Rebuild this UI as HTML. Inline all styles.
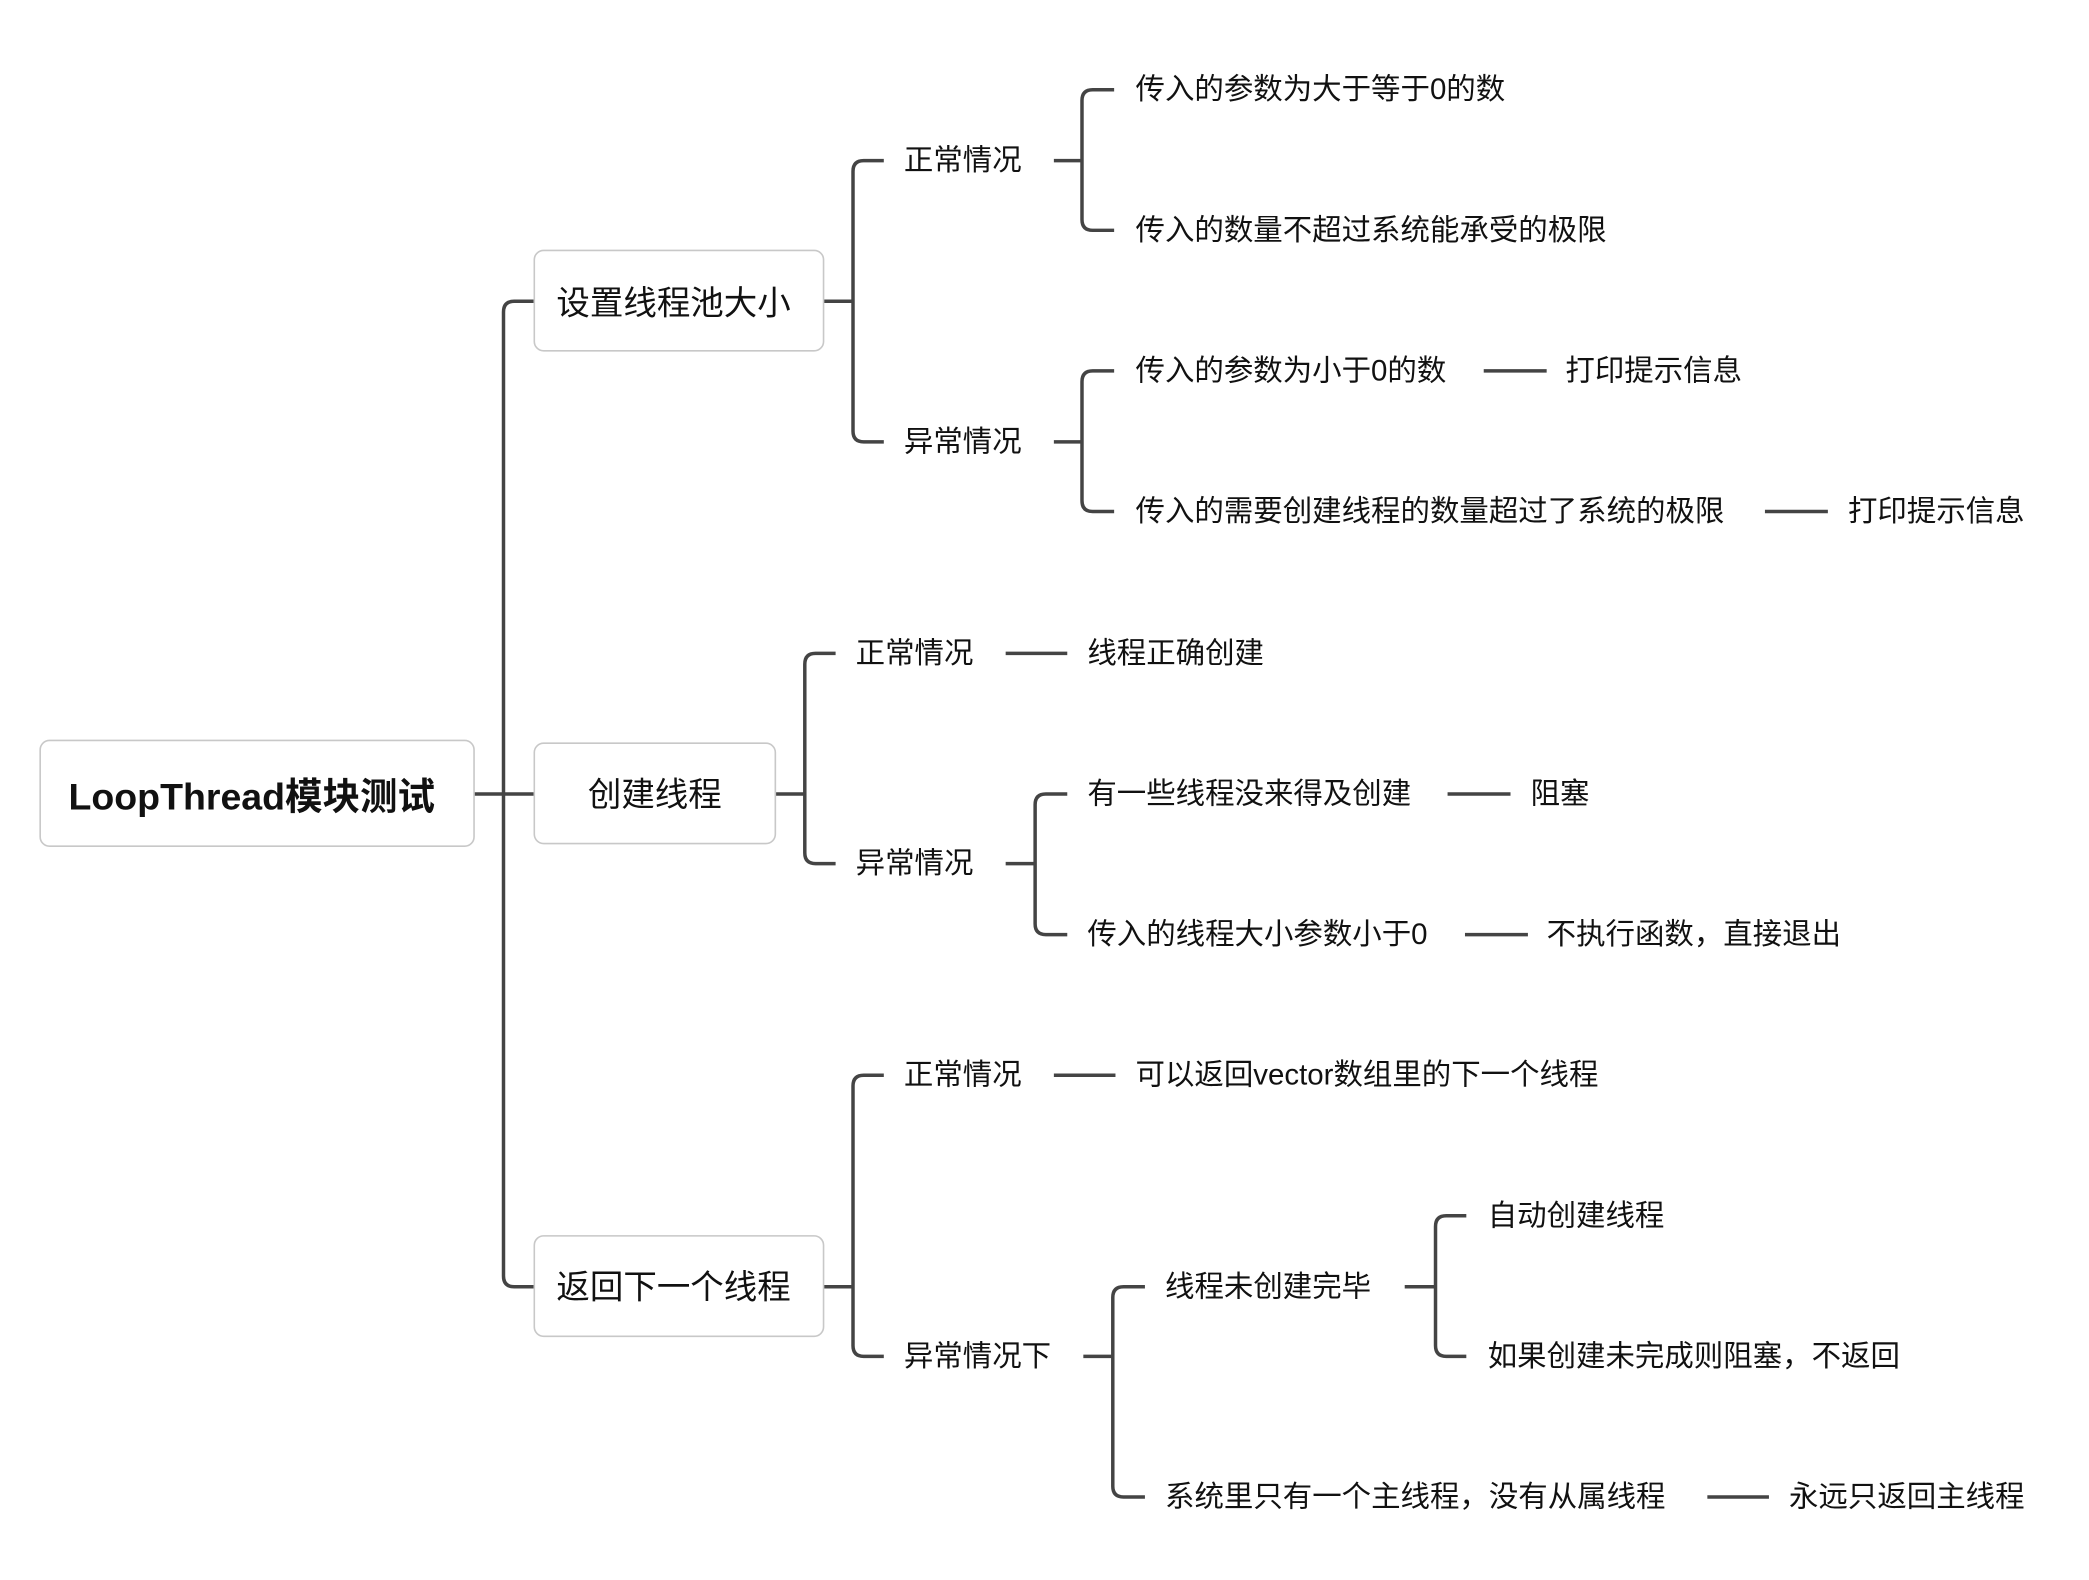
<!DOCTYPE html>
<html><head><meta charset="utf-8"><style>
html,body{margin:0;padding:0;background:#fff;}
svg{display:block}
text{font-family:"Liberation Sans","Noto Sans CJK SC",sans-serif;fill:#111;dominant-baseline:central}
</style></head><body>
<svg width="2089" height="1580" viewBox="0 0 1560 1180" preserveAspectRatio="none" xmlns="http://www.w3.org/2000/svg">
<g fill="none" stroke="#444" stroke-width="2.6" stroke-linecap="butt">
<!-- root spine -->
<path d="M354 593 H376"/>
<path d="M399 225 H384 Q376 225 376 233 V953 Q376 961 384 961 H399"/>
<path d="M376 593 H399"/>
<!-- box1 -->
<path d="M615 225 H637"/>
<path d="M660 120 H645 Q637 120 637 128 V322 Q637 330 645 330 H660"/>
<path d="M787 120 H808"/>
<path d="M832 67 H816 Q808 67 808 75 V164 Q808 172 816 172 H832"/>
<path d="M787 330 H808"/>
<path d="M832 277 H816 Q808 277 808 285 V374 Q808 382 816 382 H832"/>
<path d="M1108 277 H1155"/>
<path d="M1318 382 H1365"/>
<!-- box2 -->
<path d="M579 593 H601"/>
<path d="M624 488 H609 Q601 488 601 496 V637 Q601 645 609 645 H624"/>
<path d="M751 488 H797"/>
<path d="M751 645 H773"/>
<path d="M797 593 H781 Q773 593 773 601 V690 Q773 698 781 698 H797"/>
<path d="M1081 593 H1128"/>
<path d="M1094 698 H1141"/>
<!-- box3 -->
<path d="M615 961 H637"/>
<path d="M660 803 H645 Q637 803 637 811 V1005 Q637 1013 645 1013 H660"/>
<path d="M787 803 H833"/>
<path d="M809 1013 H831"/>
<path d="M855 961 H839 Q831 961 831 969 V1110 Q831 1118 839 1118 H855"/>
<path d="M1049 961 H1072"/>
<path d="M1095 908 H1080 Q1072 908 1072 916 V1005 Q1072 1013 1080 1013 H1095"/>
<path d="M1275 1118 H1321"/>
</g>
<g fill="#fff" stroke="#c8c8c8" stroke-width="1.2">
<rect x="30" y="553" width="324" height="79" rx="7"/>
<rect x="399" y="187" width="216" height="75" rx="7"/>
<rect x="399" y="555" width="180" height="75" rx="7"/>
<rect x="399" y="923" width="216" height="75" rx="7"/>
</g>
<text x="188" y="595" font-size="28" font-weight="bold" text-anchor="middle">LoopThread模块测试</text>
<g font-size="25" text-anchor="middle">
<text x="503" y="227">设置线程池大小</text>
<text x="489" y="594">创建线程</text>
<text x="503" y="962">返回下一个线程</text>
</g>
<g font-size="22">
<text x="675" y="120">正常情况</text>
<text x="675" y="330">异常情况</text>
<text x="848" y="67">传入的参数为大于等于0的数</text>
<text x="848" y="172">传入的数量不超过系统能承受的极限</text>
<text x="848" y="277">传入的参数为小于0的数</text>
<text x="1169" y="277">打印提示信息</text>
<text x="848" y="382">传入的需要创建线程的数量超过了系统的极限</text>
<text x="1380" y="382">打印提示信息</text>
<text x="639" y="488">正常情况</text>
<text x="812" y="488">线程正确创建</text>
<text x="639" y="645">异常情况</text>
<text x="812" y="593">有一些线程没来得及创建</text>
<text x="1143" y="593">阻塞</text>
<text x="812" y="698">传入的线程大小参数小于0</text>
<text x="1155" y="698">不执行函数，直接退出</text>
<text x="675" y="803">正常情况</text>
<text x="848" y="803">可以返回vector数组里的下一个线程</text>
<text x="675" y="1013">异常情况下</text>
<text x="870" y="961">线程未创建完毕</text>
<text x="1111" y="908">自动创建线程</text>
<text x="1111" y="1013">如果创建未完成则阻塞，不返回</text>
<text x="870" y="1118">系统里只有一个主线程，没有从属线程</text>
<text x="1336" y="1118">永远只返回主线程</text>
</g>
</svg>
</body></html>
